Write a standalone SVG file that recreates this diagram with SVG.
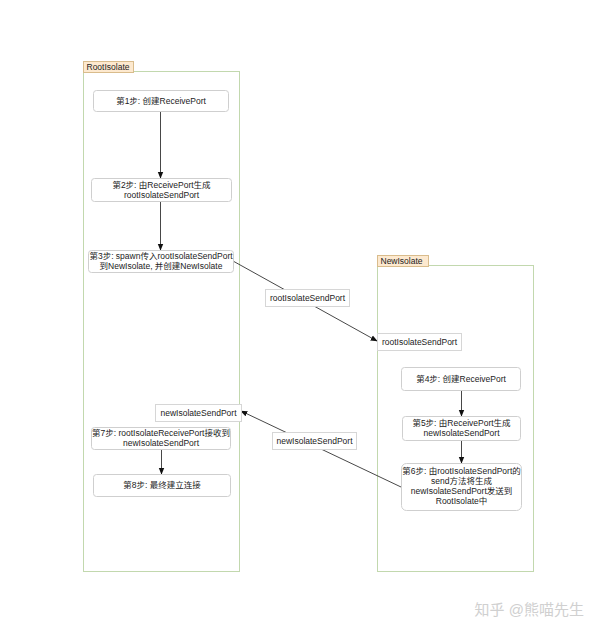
<svg xmlns="http://www.w3.org/2000/svg" width="600" height="633" viewBox="0 0 600 633">
<defs>
<style>
text{font-family:"Liberation Sans","Noto Sans CJK SC",sans-serif;font-size:8.5px;fill:#222;text-anchor:middle}
.cont{fill:none;stroke:#c2d8ae;stroke-width:1}
.tag{fill:#fde9cf;stroke:#d9bc8c;stroke-width:1}
.tagt{text-anchor:start;font-size:8.5px}
.node{fill:#fff;stroke:#cfcfcf;stroke-width:1}
.lbl{fill:#fff;stroke:#d6d6d6;stroke-width:1}
.edge{stroke:#333;stroke-width:0.9;fill:none}
.wm{fill:#d0d0d0;font-size:15px;text-anchor:end}
</style>
<marker id="ah" viewBox="0 0 10 10" refX="9" refY="5" markerWidth="7" markerHeight="7" orient="auto" markerUnits="userSpaceOnUse">
<path d="M0,1 L10,5 L0,9 Z" fill="#111"/>
</marker>
</defs>
<rect width="600" height="633" fill="#fff"/>
<g id="RootIsolate">
<rect class="cont" x="83.5" y="71.5" width="156" height="500"/>
<rect class="tag" x="83.5" y="61.5" width="50" height="11"/>
<text class="tagt" x="86.5" y="70">RootIsolate</text>
</g>
<g id="NewIsolate">
<rect class="cont" x="377.5" y="265.5" width="156" height="306"/>
<rect class="tag" x="377.5" y="255.5" width="51" height="11"/>
<text class="tagt" x="380.5" y="264">NewIsolate</text>
</g>
<g id="connectors">
<line class="edge" x1="160.5" y1="111" x2="160.5" y2="178" marker-end="url(#ah)"/>
<line class="edge" x1="160.5" y1="201" x2="160.5" y2="250" marker-end="url(#ah)"/>
<line class="edge" x1="233" y1="261" x2="377" y2="341" marker-end="url(#ah)"/>
<line class="edge" x1="461.5" y1="390" x2="461.5" y2="416" marker-end="url(#ah)"/>
<line class="edge" x1="461.5" y1="440" x2="461.5" y2="463" marker-end="url(#ah)"/>
<line class="edge" x1="401" y1="487" x2="241" y2="411" marker-end="url(#ah)"/>
<line class="edge" x1="161.5" y1="449" x2="161.5" y2="474" marker-end="url(#ah)"/>
</g>
<g id="lbl-root-send-mid">
<rect class="lbl" x="265.5" y="289.5" width="84" height="17"/>
<text x="307.5" y="301">rootIsolateSendPort</text>
</g>
<g id="lbl-root-send-new">
<rect class="lbl" x="377.5" y="333.5" width="84" height="17"/>
<text x="419.5" y="345">rootIsolateSendPort</text>
</g>
<g id="lbl-new-send-mid">
<rect class="lbl" x="272.5" y="432.5" width="84" height="17"/>
<text x="314.5" y="444">newIsolateSendPort</text>
</g>
<g id="lbl-new-send-root">
<rect class="lbl" x="155.5" y="404.5" width="86" height="17"/>
<text x="198.5" y="416">newIsolateSendPort</text>
</g>
<g id="step1">
<rect class="node" x="93.5" y="90.5" width="135" height="21" rx="3"/>
<text x="161" y="104">第1步: 创建ReceivePort</text>
</g>
<g id="step2">
<rect class="node" x="91.5" y="178.5" width="140" height="23" rx="3"/>
<text x="161.5" y="188">第2步: 由ReceivePort生成</text>
<text x="161.5" y="198">rootIsolateSendPort</text>
</g>
<g id="step3">
<rect class="node" x="88.5" y="250.5" width="145" height="22" rx="3"/>
<text x="161" y="259">第3步: spawn传入rootIsolateSendPort</text>
<text x="161" y="269">到NewIsolate, 并创建NewIsolate</text>
</g>
<g id="step4">
<rect class="node" x="401.5" y="367.5" width="119" height="23" rx="3"/>
<text x="461" y="382">第4步: 创建ReceivePort</text>
</g>
<g id="step5">
<rect class="node" x="402.5" y="416.5" width="118" height="24" rx="3"/>
<text x="461.5" y="426">第5步: 由ReceivePort生成</text>
<text x="461.5" y="436">newIsolateSendPort</text>
</g>
<g id="step6">
<rect class="node" x="401.5" y="463.5" width="120" height="47" rx="5"/>
<text x="461.5" y="474">第6步: 由rootIsolateSendPort的</text>
<text x="461.5" y="484">send方法将生成</text>
<text x="461.5" y="494">newIsolateSendPort发送到</text>
<text x="461.5" y="504">RootIsolate中</text>
</g>
<g id="step7">
<rect class="node" x="91.5" y="427.5" width="139" height="22" rx="3"/>
<text x="161" y="436">第7步: rootIsolateReceivePort接收到</text>
<text x="161" y="446">newIsolateSendPort</text>
</g>
<g id="step8">
<rect class="node" x="93.5" y="474.5" width="137" height="22" rx="3"/>
<text x="162" y="488">第8步: 最终建立连接</text>
</g>
<text class="wm" x="584" y="615">知乎 @熊喵先生</text>
</svg>
